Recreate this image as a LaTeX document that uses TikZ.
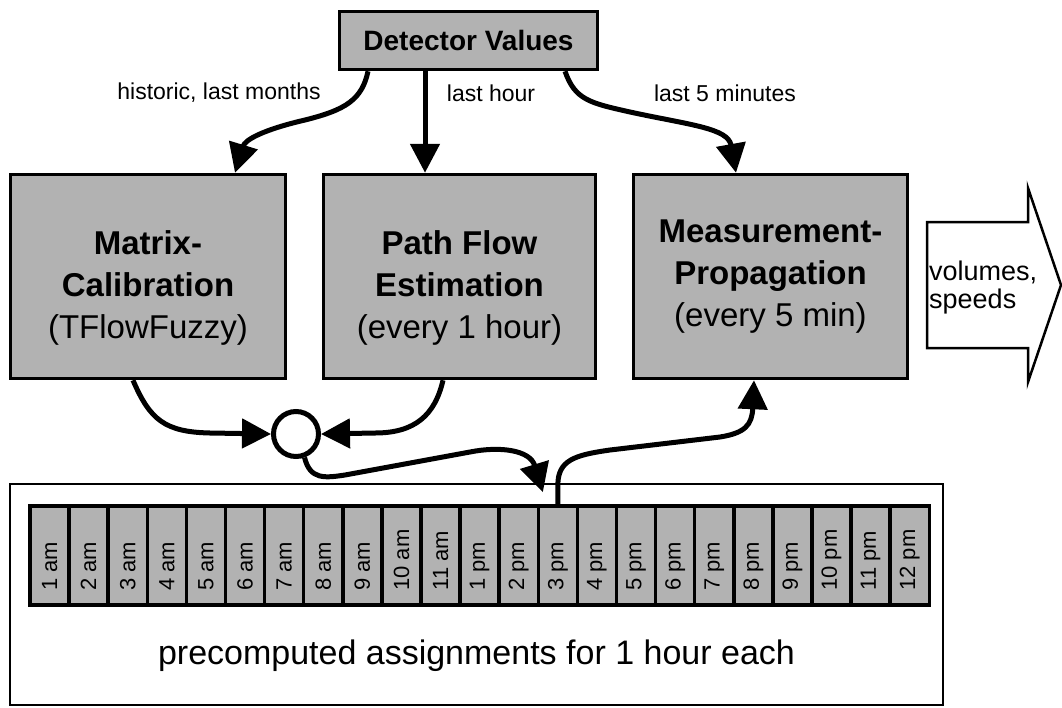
\documentclass[tikz,border=0pt]{standalone}
\usepackage{fontspec}
\setmainfont{Liberation Sans}
\usetikzlibrary{arrows.meta}
\definecolor{boxgray}{RGB}{178,178,178}
\tikzset{
  procbox/.style={draw, line width=3.5pt, fill=boxgray, inner sep=0pt, minimum height=204pt},
  proctext/.style={align=center, inner sep=0pt, font=\fontsize{33}{42}\selectfont},
  srcbox/.style={draw, line width=3.5pt, fill=boxgray, inner sep=0pt, minimum width=258pt, minimum height=58pt, font=\fontsize{28}{32}\selectfont\bfseries},
  edgelbl/.style={inner sep=0pt, font=\fontsize{23}{27}\selectfont},
  flow/.style={line width=5pt, -{Triangle[length=29pt,width=29pt]}},
  hourcell/.style={draw, line width=3.5pt, fill=boxgray, inner sep=0pt, minimum width=39.1pt, minimum height=99pt},
  hourlbl/.style={inner sep=0pt, rotate=90, anchor=west, font=\fontsize{22}{26}\selectfont},
  store/.style={draw, line width=2.5pt, inner sep=0pt, minimum width=933pt, minimum height=221pt},
  mixer/.style={circle, draw, line width=5pt, inner sep=0pt, minimum size=45pt},
  outtext/.style={inner sep=0pt, anchor=west, align=left, font=\fontsize{27}{28}\selectfont},
  bigtext/.style={inner sep=0pt, font=\fontsize{34}{40}\selectfont},
}
\begin{document}
\begin{tikzpicture}[x=1pt, y=-1pt]
\useasboundingbox (0,0) rectangle (1062,707);

% storage of hourly assignments
\node[store] (store) at (476.5,594.5) {};
\foreach \t [count=\i from 0] in {1 am,2 am,3 am,4 am,5 am,6 am,7 am,8 am,9 am,10 am,11 am,1 pm,2 pm,3 pm,4 pm,5 pm,6 pm,7 pm,8 pm,9 pm,10 pm,11 pm,12 pm}{
  \node[hourcell] (c\i) at ({30+39.1*\i+19.55},555.5) {};
  \node[hourlbl] (h\i) at ([yshift=16pt]c\i.south) {\t};
}
\node[bigtext] (pre) at (476.5,656) {precomputed assignments for 1 hour each};

% source and processing boxes
\node[srcbox] (det) at (468.5,40.5) {Detector Values};
\node[procbox, minimum width=275pt] (mat) at (148,276.5) {};
\node[procbox, minimum width=272pt] (pf) at (459.5,276.5) {};
\node[procbox, minimum width=274pt] (mp) at (770.5,276.5) {};
\node[proctext] (matT) at (148,287.5) {\textbf{Matrix-}\\\textbf{Calibration}\\(TFlowFuzzy)};
\node[proctext] (pfT) at (459.5,287.5) {\textbf{Path Flow}\\\textbf{Estimation}\\(every 1 hour)};
\node[proctext] (mpT) at (770.5,276.5) {\textbf{Measurement-}\\\textbf{Propagation}\\(every 5 min)};

% combination point
\node[mixer] (mix) at (296,434) {};

% output arrow
\draw[line width=2.5pt, fill=white, line join=miter] (927,222) -- (1028,222) -- (1028,188) -- (1061,285) -- (1028,382) -- (1028,348) -- (927,348) -- cycle;
\node[outtext] (outlbl) at (929,288) {volumes,\\speeds};

% detector data flows
\draw[flow] ([xshift=-100.5pt]det.south) .. controls (362,100) and (345,110) .. (305,120)
  .. controls (262,130) and (245,140) .. ([xshift=87pt]mat.north);
\draw[flow] ([xshift=-43.5pt]det.south) -- ([xshift=-34.5pt]pf.north);
\draw[flow] ([xshift=96.5pt]det.south) .. controls (575,100) and (590,103) .. (630,112)
  .. controls (690,125) and (728,128) .. ([xshift=-34.5pt]mp.north);
\node[edgelbl] (lblHist) at (219,93) {historic, last months};
\node[edgelbl] (lblHour) at (491,93) {last hour};
\node[edgelbl] (lblFive) at (725,93) {last 5 minutes};

% results combined and stored
\draw[flow] ([xshift=-15pt]mat.south) .. controls (150,420) and (165,432) .. (210,433) -- (mix.west);
\draw[flow] ([xshift=-16.5pt]pf.south) .. controls (435,415) and (415,433) .. (375,433) -- (mix.east);
\draw[flow] (mix.-70) .. controls (310,480) and (325,478) .. (345,475) -- (470,452)
  .. controls (500,446) and (530,450) .. ([shift={(-15pt,12pt)}]c13.north);

% stored assignment feeds the propagation
\draw[flow] (c13.north) -- (557.85,485) .. controls (557.85,460) and (575,455) .. (610,450) -- (720,437)
  .. controls (745,433) and (752,425) .. ([xshift=-16.5pt]mp.south);
\end{tikzpicture}
\end{document}
